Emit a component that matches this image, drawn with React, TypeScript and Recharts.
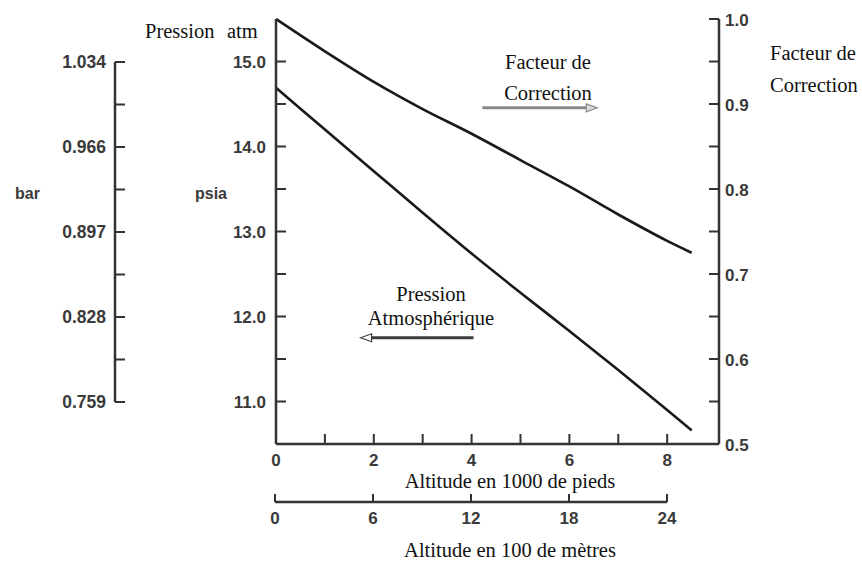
import { ComposedChart, Line, XAxis, YAxis, ReferenceLine } from 'recharts'

// altitude in 1000 ft, readings from the scanned chart
const altitudeFt = [0, 1, 2, 3, 4, 5, 6, 7, 8, 8.5]
const pressionPsia = [14.69, 14.2, 13.71, 13.22, 12.74, 12.28, 11.83, 11.37, 10.9, 10.66]
const facteurCorrection = [1.0, 0.962, 0.926, 0.894, 0.865, 0.834, 0.803, 0.77, 0.739, 0.725]

const psiaTicks = [11, 11.5, 12, 12.5, 13, 13.5, 14, 14.5, 15]
const barLabels: Record<number, string> = { 11: '0.759', 12: '0.828', 13: '0.897', 14: '0.966', 15: '1.034' }
const facteurTicks = [0.5, 0.55, 0.6, 0.65, 0.7, 0.75, 0.8, 0.85, 0.9, 0.95, 1.0]
const ftTicks = [0, 1, 2, 3, 4, 5, 6, 7, 8]
const metreTicks = [0, 6, 12, 18, 24]

// annotation arrows (data coordinates)
const arrowFacteur = [{ x: 4.22, y: 0.8955 }, { x: 6.57, y: 0.8955 }]
const arrowPression = [{ x: 4.04, y: 11.75 }, { x: 1.73, y: 11.75 }]

const rows = altitudeFt.map((a, i) => ({ alt: a, psia: pressionPsia[i], facteur: facteurCorrection[i] }))
const barRows = psiaTicks.map((p) => ({ k: 0.5, psia: p }))
const metreRows = metreTicks.map((m) => ({ m, k: 0.5 }))

const W = 862
const H = 562
const AXIS = '#333'
const SANS = '"Liberation Sans", Arial, sans-serif'
const SERIF = '"Liberation Serif", "Times New Roman", serif'
const num = { fontFamily: SANS, fontSize: 17, fontWeight: 700, fill: '#3a3a3a' }

const isInt = (v: number) => Math.abs(v - Math.round(v)) < 1e-6

function PsiaTick({ x, y, payload }: any) {
  const v = payload.value
  return (
    <g>
      <line x1={x} x2={x + 10} y1={y} y2={y} stroke={AXIS} strokeWidth={2} />
      {isInt(v) && <text x={x - 10} y={y + 6} textAnchor="end" {...num}>{v.toFixed(1)}</text>}
    </g>
  )
}

function BarTick({ x, y, payload }: any) {
  const v = payload.value
  return (
    <g>
      <line x1={x} x2={x + 10} y1={y} y2={y} stroke={AXIS} strokeWidth={2} />
      {isInt(v) && <text x={x - 9} y={y + 6} textAnchor="end" {...num} fontSize={17.5}>{barLabels[v]}</text>}
    </g>
  )
}

function FacteurTick({ x, y, payload }: any) {
  const v = payload.value
  return (
    <g>
      <line x1={x - 10} x2={x} y1={y} y2={y} stroke={AXIS} strokeWidth={2} />
      {isInt(v * 10) && <text x={x + 6} y={y + 7} textAnchor="start" {...num}>{v.toFixed(1)}</text>}
    </g>
  )
}

function FtTick({ x, y, payload }: any) {
  const v = payload.value
  return (
    <g>
      <line x1={x} x2={x} y1={y - 10} y2={y} stroke={AXIS} strokeWidth={2} />
      {v % 2 === 0 && <text x={x} y={y + 22} textAnchor="middle" {...num}>{v}</text>}
    </g>
  )
}

function MetreTick({ x, y, payload }: any) {
  return (
    <g>
      <line x1={x} x2={x} y1={y - 8} y2={y} stroke={AXIS} strokeWidth={2} />
      <text x={x} y={y + 22} textAnchor="middle" {...num}>{payload.value}</text>
    </g>
  )
}

function Arrow(color: string, head: string) {
  return (p: any) => {
    const { x1, y1, x2, y2 } = p
    const d = x2 > x1 ? 1 : -1
    return (
      <g>
        <line x1={x1} y1={y1} x2={x2 - d * 8} y2={y2} stroke={color} strokeWidth={3} />
        <polygon
          points={`${x2},${y2} ${x2 - d * 11},${y2 - 4} ${x2 - d * 11},${y2 + 4}`}
          fill={head}
          stroke={color}
          strokeWidth={1.2}
        />
      </g>
    )
  }
}

const abs: any = { position: 'absolute', left: 0, top: 0 }

export default function App() {
  return (
    <div style={{ position: 'absolute', left: 0, top: 0, width: W, height: H, background: '#fff' }}>
      {/* main plot: psia left, correction factor right */}
      <div style={abs}>
        <ComposedChart width={W} height={H} data={rows} margin={{ top: 19, right: 83, bottom: 88, left: 216 }}>
          <XAxis
            dataKey="alt"
            type="number"
            domain={[0, 9.06]}
            ticks={ftTicks}
            interval={0}
            height={30}
            tickSize={0}
            tickMargin={0}
            tickLine={false}
            tick={<FtTick />}
            axisLine={{ stroke: AXIS, strokeWidth: 2.5 }}
          />
          <XAxis
            xAxisId="top"
            orientation="top"
            type="number"
            domain={[0, 9.06]}
            height={0}
            tick={false}
            tickLine={false}
            axisLine={{ stroke: AXIS, strokeWidth: 2.5 }}
          />
          <YAxis
            yAxisId="psia"
            type="number"
            domain={[10.5, 15.5]}
            ticks={psiaTicks}
            interval={0}
            width={60}
            tickSize={0}
            tickMargin={0}
            tickLine={false}
            tick={<PsiaTick />}
            axisLine={{ stroke: AXIS, strokeWidth: 2.5 }}
          />
          <YAxis
            yAxisId="facteur"
            orientation="right"
            type="number"
            domain={[0.5, 1.0]}
            ticks={facteurTicks}
            interval={0}
            width={60}
            tickSize={0}
            tickMargin={0}
            tickLine={false}
            tick={<FacteurTick />}
            axisLine={{ stroke: AXIS, strokeWidth: 2.5 }}
          />
          <Line
            yAxisId="facteur"
            dataKey="facteur"
            type="monotone"
            stroke="#1a1a1a"
            strokeWidth={2.6}
            dot={false}
            isAnimationActive={false}
          />
          <Line
            yAxisId="psia"
            dataKey="psia"
            type="monotone"
            stroke="#1a1a1a"
            strokeWidth={2.6}
            dot={false}
            isAnimationActive={false}
          />
          <ReferenceLine yAxisId="facteur" segment={arrowFacteur} shape={Arrow('#8a8a8a', '#ddd')} />
          <ReferenceLine yAxisId="psia" segment={arrowPression} shape={Arrow('#3c3c3c', '#fff')} />
        </ComposedChart>
      </div>

      {/* bar scale, far left */}
      <div style={abs}>
        <ComposedChart width={W} height={H} data={barRows} margin={{ top: 62, right: 600, bottom: 160, left: 55 }}>
          <XAxis hide dataKey="k" type="number" domain={[0, 1]} />
          <YAxis
            yAxisId="bar"
            type="number"
            domain={[11, 15]}
            ticks={psiaTicks}
            interval={0}
            width={60}
            tickSize={0}
            tickMargin={0}
            tickLine={false}
            tick={<BarTick />}
            axisLine={{ stroke: AXIS, strokeWidth: 2.5 }}
          />
          <Line
            yAxisId="bar"
            dataKey="psia"
            stroke="transparent"
            dot={false}
            activeDot={false}
            isAnimationActive={false}
          />
        </ComposedChart>
      </div>

      {/* metre scale under the plot */}
      <div style={abs}>
        <ComposedChart width={W} height={H} data={metreRows} margin={{ top: 400, right: 195, bottom: 30, left: 275 }}>
          <XAxis
            dataKey="m"
            type="number"
            domain={[0, 24]}
            ticks={metreTicks}
            interval={0}
            height={30}
            tickSize={0}
            tickMargin={0}
            tickLine={false}
            tick={<MetreTick />}
            axisLine={{ stroke: AXIS, strokeWidth: 2.5 }}
          />
          <YAxis hide type="number" domain={[0, 1]} />
          <Line dataKey="k" stroke="transparent" dot={false} activeDot={false} isAnimationActive={false} />
        </ComposedChart>
      </div>

      {/* titles and annotations */}
      <svg width={W} height={H} style={{ ...abs, pointerEvents: 'none' }}>
        <g fontFamily={SERIF} fontSize={20.5} fill="#111">
          <text x={145} y={38}>Pression</text>
          <text x={227} y={38}>atm</text>
          <text x={770} y={60}>Facteur de</text>
          <text x={770} y={92}>Correction</text>
          <text x={548} y={69} textAnchor="middle">Facteur de</text>
          <text x={548} y={100} textAnchor="middle">Correction</text>
          <text x={431} y={301} textAnchor="middle">Pression</text>
          <text x={431} y={325} textAnchor="middle">Atmosphérique</text>
          <text x={510} y={488} textAnchor="middle">Altitude en 1000 de pieds</text>
          <text x={510} y={557} textAnchor="middle">Altitude en 100 de mètres</text>
        </g>
        <g fontFamily={SANS} fontSize={16} fontWeight={700} fill="#3a3a3a">
          <text x={15} y={199}>bar</text>
          <text x={195} y={199}>psia</text>
        </g>
      </svg>
    </div>
  )
}
